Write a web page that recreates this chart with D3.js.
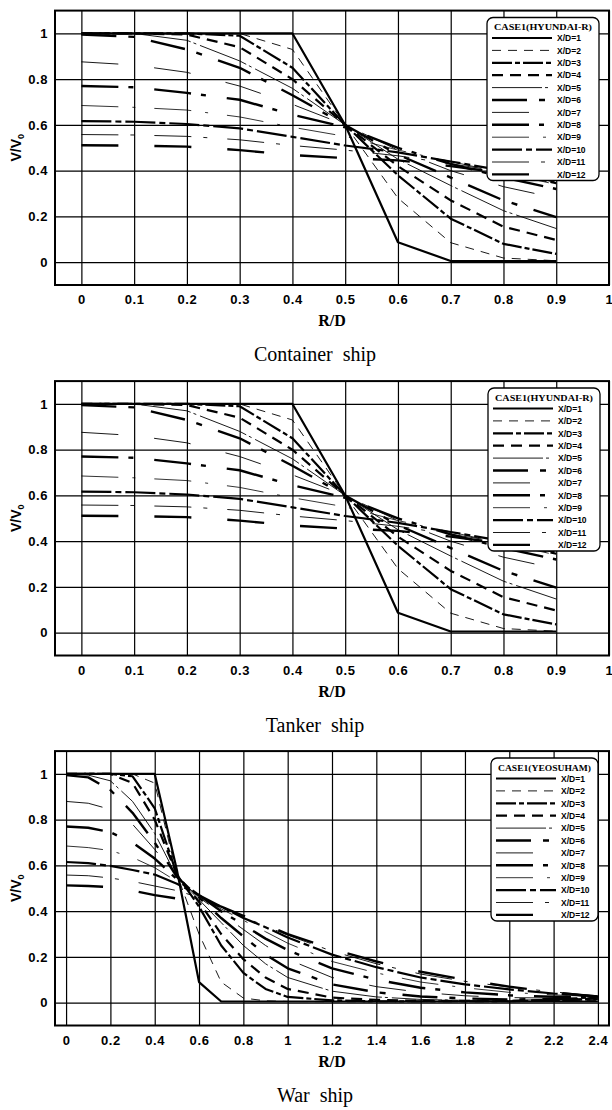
<!DOCTYPE html>
<html><head><meta charset="utf-8">
<script src="https://cdn.jsdelivr.net/npm/d3@7"></script>
<style>body{margin:0;background:#fff}svg{display:block}</style>
</head><body><svg id="c" width="612" height="1110"></svg>
<script>
// ---------- DATA ----------
const seriesNames = ["X/D=1","X/D=2","X/D=3","X/D=4","X/D=5","X/D=6","X/D=7","X/D=8","X/D=9","X/D=10","X/D=11","X/D=12"];
const panelTitles = ["Container ship","Tanker ship","War ship"];
const legendTitles = ["CASE1(HYUNDAI-R)","CASE1(HYUNDAI-R)","CASE1(YEOSUHAM)"];
const xLabel = "R/D";
const yTicks = [0,0.2,0.4,0.6,0.8,1];
const shipXTicks = [0,0.1,0.2,0.3,0.4,0.5,0.6,0.7,0.8,0.9,1];
const warXTicks = [0,0.2,0.4,0.6,0.8,1,1.2,1.4,1.6,1.8,2,2.2,2.4];

const containerRD = [0,0.1,0.2,0.3,0.4,0.5,0.6,0.7,0.8,0.9];
const containerV = [
 [1,1,1,1,1,0.6,0.087,0.005,0.005,0.005],
 [1,1,1,1,0.93,0.6,0.28,0.085,0.018,0.006],
 [1,1,1,0.99,0.85,0.6,0.38,0.19,0.08,0.036],
 [1,1,0.995,0.94,0.8,0.6,0.42,0.27,0.155,0.097],
 [1,1,0.97,0.88,0.76,0.6,0.45,0.335,0.225,0.147],
 [0.995,0.985,0.93,0.85,0.73,0.6,0.47,0.37,0.27,0.197],
 [0.876,0.862,0.83,0.77,0.69,0.6,0.49,0.4,0.33,0.28],
 [0.77,0.765,0.74,0.71,0.645,0.59,0.5,0.43,0.37,0.32],
 [0.685,0.677,0.665,0.635,0.59,0.55,0.49,0.44,0.39,0.34],
 [0.617,0.614,0.604,0.585,0.548,0.51,0.48,0.44,0.4,0.345],
 [0.558,0.556,0.55,0.535,0.51,0.49,0.465,0.43,0.395,0.35],
 [0.511,0.51,0.505,0.49,0.468,0.455,0.445,0.42,0.39,0.355]
];
const tankerRD = [0,0.1,0.2,0.3,0.4,0.5,0.6,0.7,0.8,0.9];
const tankerV = [
 [1,1,1,1,1,0.6,0.087,0.005,0.005,0.005],
 [1,1,1,1,0.93,0.6,0.28,0.085,0.018,0.006],
 [1,1,1,0.99,0.85,0.6,0.38,0.19,0.08,0.036],
 [1,1,0.995,0.94,0.8,0.6,0.42,0.27,0.155,0.097],
 [1,1,0.97,0.88,0.76,0.6,0.45,0.335,0.225,0.147],
 [0.995,0.985,0.93,0.85,0.73,0.6,0.47,0.37,0.27,0.197],
 [0.876,0.862,0.83,0.77,0.69,0.6,0.49,0.4,0.33,0.28],
 [0.77,0.765,0.74,0.71,0.645,0.59,0.5,0.43,0.37,0.32],
 [0.685,0.677,0.665,0.635,0.59,0.55,0.49,0.44,0.39,0.34],
 [0.617,0.614,0.604,0.585,0.548,0.51,0.48,0.44,0.4,0.345],
 [0.558,0.556,0.55,0.535,0.51,0.49,0.465,0.43,0.395,0.35],
 [0.511,0.51,0.505,0.49,0.468,0.455,0.445,0.42,0.39,0.355]
];
const warRD = [0,0.1,0.2,0.3,0.4,0.5,0.6,0.7,0.8,0.9,1.0,1.2,1.4,1.6,1.8,2.0,2.2,2.4];
const warV = [
 [1,1,1,1,1,0.58,0.09,0.005,0.005,0.005,0.005,0.005,0.005,0.005,0.005,0.005,0.005,0.005],
 [1,1,1,1,0.96,0.56,0.3,0.09,0.02,0.008,0.005,0.004,0.004,0.004,0.004,0.004,0.006,0.01],
 [1,1,1,0.99,0.85,0.56,0.42,0.25,0.13,0.06,0.025,0.01,0.006,0.006,0.006,0.006,0.01,0.015],
 [1,1,1,0.96,0.8,0.56,0.44,0.3,0.19,0.11,0.06,0.022,0.012,0.008,0.008,0.008,0.012,0.018],
 [1,0.995,0.97,0.88,0.74,0.55,0.45,0.35,0.25,0.17,0.11,0.05,0.025,0.014,0.01,0.01,0.014,0.02],
 [0.995,0.985,0.93,0.83,0.7,0.55,0.46,0.37,0.29,0.21,0.15,0.08,0.045,0.027,0.018,0.014,0.016,0.02],
 [0.88,0.872,0.845,0.78,0.67,0.55,0.46,0.39,0.32,0.25,0.19,0.11,0.07,0.045,0.03,0.022,0.02,0.022],
 [0.77,0.765,0.745,0.7,0.63,0.54,0.47,0.4,0.34,0.28,0.23,0.15,0.1,0.065,0.045,0.032,0.026,0.024],
 [0.685,0.678,0.665,0.635,0.59,0.53,0.47,0.41,0.36,0.31,0.26,0.18,0.13,0.09,0.065,0.045,0.034,0.026],
 [0.615,0.61,0.598,0.58,0.56,0.52,0.47,0.42,0.37,0.33,0.285,0.21,0.155,0.11,0.08,0.058,0.04,0.028],
 [0.558,0.555,0.545,0.53,0.51,0.49,0.46,0.42,0.375,0.335,0.295,0.225,0.17,0.125,0.093,0.068,0.047,0.03],
 [0.513,0.51,0.505,0.49,0.47,0.455,0.45,0.42,0.38,0.34,0.3,0.235,0.18,0.135,0.1,0.07,0.045,0.025]
];

// ---------- STYLE ----------
const lineStyles = [
 {w:2.2, d:null},
 {w:0.9, d:"9,7"},
 {w:2.2, d:"20,3,5,3"},
 {w:2.2, d:"11,7"},
 {w:0.9, d:"50,3,3,4"},
 {w:2.4, d:"35,12,6,17"},
 {w:0.9, d:"37,36"},
 {w:2.4, d:"37,10,5,21"},
 {w:0.8, d:"37,14,3,19"},
 {w:2.2, d:"30,4,6,4"},
 {w:0.9, d:"37,12,4,20"},
 {w:2.4, d:"37,36"}
];

const panels = [
 {oy:0,     rd:containerRD, v:containerV, xdom:[-0.05,1.0],  xt:shipXTicks, title:panelTitles[0], lt:legendTitles[0], lx:487, lw:112},
 {oy:370.5, rd:tankerRD,    v:tankerV,    xdom:[-0.05,1.0],  xt:shipXTicks, title:panelTitles[1], lt:legendTitles[1], lx:488, lw:112},
 {oy:740.5, rd:warRD,       v:warV,       xdom:[-0.05,2.45], xt:warXTicks,  title:panelTitles[2], lt:legendTitles[2], lx:491, lw:107}
];

const svg = d3.select("#c");
const L = 55, R = 609, T = 10.6, B = 285;
const sans = "'Liberation Sans', Arial, sans-serif";
const serif = "'Liberation Serif', 'Times New Roman', serif";

panels.forEach(p => {
  const g = svg.append("g").attr("transform", `translate(0,${p.oy})`);
  const x = d3.scaleLinear().domain(p.xdom).range([L, R]);
  const y = d3.scaleLinear().domain([-0.1, 1.1]).range([B, T]);

  // grid
  g.append("g").attr("transform", `translate(0,${B})`)
    .call(d3.axisBottom(x).tickValues(p.xt).tickSize(-(B - T)).tickFormat(""))
    .call(a => a.select(".domain").remove())
    .call(a => a.selectAll("line").attr("stroke", "#000").attr("stroke-width", 1.2));
  g.append("g").attr("transform", `translate(${L},0)`)
    .call(d3.axisLeft(y).tickValues(yTicks).tickSize(-(R - L)).tickFormat(""))
    .call(a => a.select(".domain").remove())
    .call(a => a.selectAll("line").attr("stroke", "#000").attr("stroke-width", 1.2));

  // frame
  g.append("rect").attr("x", L).attr("y", T).attr("width", R - L).attr("height", B - T)
    .attr("fill", "none").attr("stroke", "#000").attr("stroke-width", 2);

  // tick labels
  g.append("g").attr("transform", `translate(0,${B})`)
    .call(d3.axisBottom(x).tickValues(p.xt).tickSize(0).tickPadding(10).tickFormat(d3.format("~g")))
    .call(a => a.select(".domain").remove())
    .call(a => a.selectAll("text").attr("font-family", sans).attr("font-size", 13)
      .attr("font-weight", "bold").attr("fill", "#000").attr("letter-spacing", 0.6));
  g.append("g").attr("transform", `translate(${L},0)`)
    .call(d3.axisLeft(y).tickValues(yTicks).tickSize(0).tickPadding(7).tickFormat(d3.format("~g")))
    .call(a => a.select(".domain").remove())
    .call(a => a.selectAll("text").attr("font-family", sans).attr("font-size", 13)
      .attr("font-weight", "bold").attr("fill", "#000").attr("letter-spacing", 0.6));

  // axis titles
  g.append("text").attr("x", (L + R) / 2).attr("y", 326).attr("text-anchor", "middle")
    .attr("font-family", serif).attr("font-weight", "bold").attr("font-size", 16).text(xLabel);
  const yl = g.append("text").attr("transform", `translate(21,${(T + B) / 2}) rotate(-90)`)
    .attr("text-anchor", "middle").attr("font-family", sans).attr("font-weight", "bold").attr("font-size", 14);
  yl.append("tspan").text("V/V");
  yl.append("tspan").attr("font-size", 9).attr("dy", 3).text("0");

  // series
  const line = d3.line().x(d => x(d[0])).y(d => y(d[1]));
  p.v.forEach((vals, i) => {
    const pts = p.rd.map((r, k) => [r, vals[k]]);
    const s = lineStyles[i];
    g.append("path").datum(pts).attr("d", line).attr("fill", "none")
      .attr("stroke", "#000").attr("stroke-width", s.w)
      .attr("stroke-dasharray", s.d).attr("stroke-linejoin", "round");
  });

  // legend
  const lg = g.append("g");
  const ly0 = 17.5, rowH = 12.4;
  lg.append("rect").attr("x", p.lx).attr("y", ly0).attr("width", p.lw).attr("height", 163)
    .attr("rx", 6).attr("fill", "#fff").attr("stroke", "#000").attr("stroke-width", 1.3);
  lg.append("text").attr("x", p.lx + p.lw / 2).attr("y", ly0 + 12.5).attr("text-anchor", "middle")
    .attr("font-family", serif).attr("font-weight", "bold").attr("font-size", 8.5)
    .attr("textLength", p.lw - 14).attr("lengthAdjust", "spacingAndGlyphs").text(p.lt);
  seriesNames.forEach((n, i) => {
    const yy = ly0 + 20.5 + i * rowH;
    const s = lineStyles[i];
    lg.append("line").attr("x1", p.lx + 5).attr("x2", p.lx + 65).attr("y1", yy).attr("y2", yy)
      .attr("stroke", "#000").attr("stroke-width", s.w).attr("stroke-dasharray", s.d);
    lg.append("text").attr("x", p.lx + 70).attr("y", yy + 3.2)
      .attr("font-family", sans).attr("font-weight", "bold").attr("font-size", 8.5).text(n);
  });

  // caption
  g.append("text").attr("x", 315).attr("y", 361).attr("text-anchor", "middle")
    .attr("font-family", serif).attr("font-size", 20).attr("word-spacing", 5).text(p.title);
});
</script></body></html>
